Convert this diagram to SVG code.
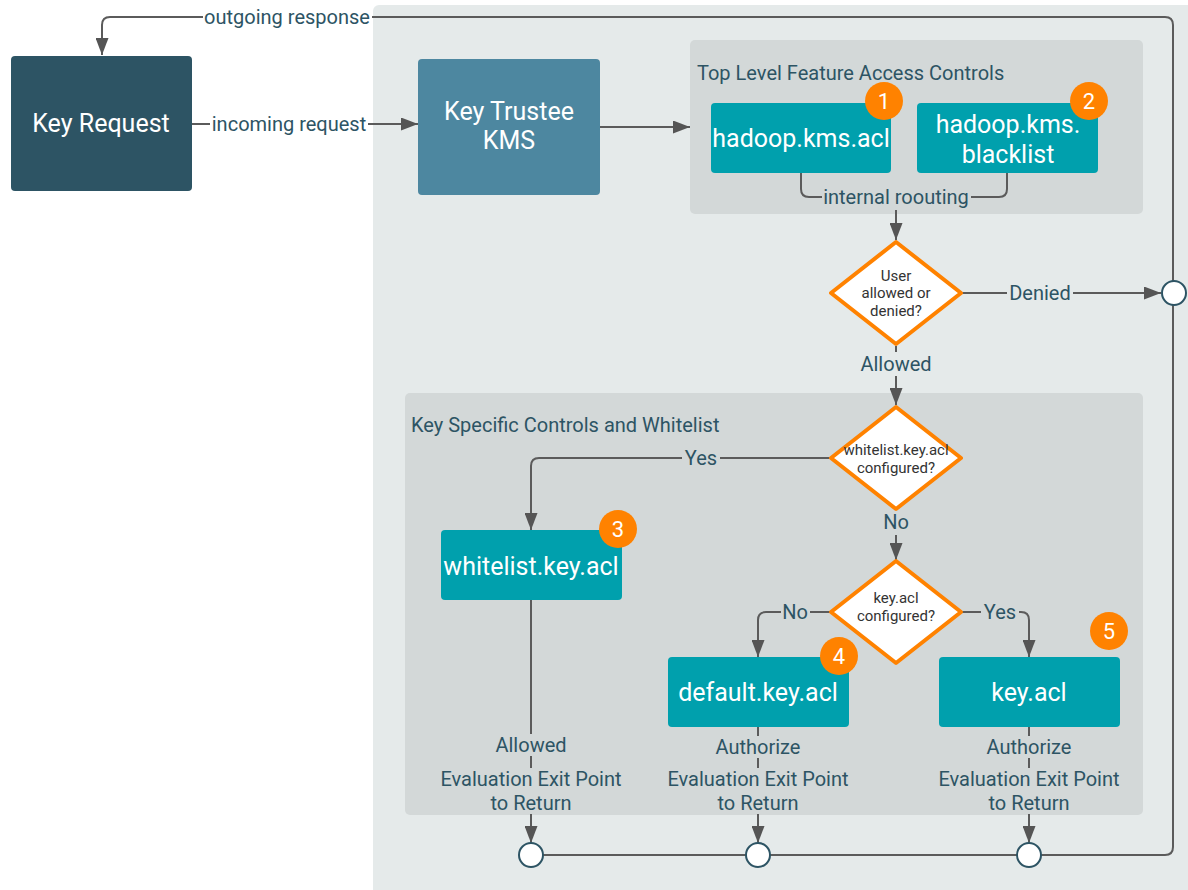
<svg xmlns="http://www.w3.org/2000/svg" width="1188" height="890" viewBox="0 0 1188 890">
<style>
text{font-family:Roboto,"Liberation Sans",sans-serif}
.lbl{font-size:20px;fill:#2d5464;text-anchor:middle}
.ttl{font-size:20px;fill:#2d5464}
.box{font-size:25px;fill:#fff;text-anchor:middle}
.dt{font-size:15px;fill:#333;text-anchor:middle}
.acl{fill:#00a0ad}
.ln{fill:none;stroke:#5b5b5b;stroke-width:2}
.dia{fill:#fff;stroke:#ff8200;stroke-width:4;stroke-linejoin:round}
.badge circle{fill:#ff8200}
.badge text{font-size:22px;fill:#fff;text-anchor:middle}
.end{fill:#fff;stroke:#2d5464;stroke-width:2}
.lb{fill:#d3d8d8}
</style>
<defs>
<marker id="ar" markerWidth="17" markerHeight="13" viewBox="0 0 17 13" refX="17" refY="6.5" orient="auto" markerUnits="userSpaceOnUse">
<path d="M0,0 L17,6.5 L0,13 Z" fill="#555"/>
</marker>
</defs>
<rect x="0" y="0" width="1188" height="890" fill="#fff"/>
<rect x="373" y="5" width="830" height="900" rx="6" fill="#e5eaea"/>
<g id="group-top">
<rect x="690" y="40" width="453" height="174" rx="5" fill="#d3d8d8"/>
<text class="ttl" x="697" y="80">Top Level Feature Access Controls</text>
</g>
<g id="group-key">
<rect x="405" y="393" width="738" height="422" rx="5" fill="#d3d8d8"/>
<text class="ttl" x="411" y="432">Key Specific Controls and Whitelist</text>
</g>
<g id="connectors">
<path class="ln" d="M1173,290 V25 Q1173,17 1165,17 H110 Q102,17 102,25 V55" marker-end="url(#ar)"/>
<rect x="203" y="5" width="169" height="24" fill="#fff"/>
<text class="lbl" x="287" y="24">outgoing response</text>
<path class="ln" d="M192,124 H418" marker-end="url(#ar)"/>
<rect x="210" y="112" width="158" height="24" fill="#fff"/>
<text class="lbl" x="289" y="131">incoming request</text>
<path class="ln" d="M600,127 H690" marker-end="url(#ar)"/>
<path class="ln" d="M801,173 V189 Q801,197 809,197 H999 Q1007,197 1007,189 V173"/>
<rect x="822" y="185" width="149" height="24" class="lb"/>
<text class="ttl" x="896" y="204" text-anchor="middle">internal roouting</text>
<path class="ln" d="M896,210 V240" marker-end="url(#ar)"/>
<path class="ln" d="M962,293 H1161" marker-end="url(#ar)"/>
<rect x="1007" y="281" width="66" height="24" fill="#e5eaea"/>
<text class="lbl" x="1040" y="300">Denied</text>
<path class="ln" d="M1173,305 V847 Q1173,855 1165,855 H531"/>
<path class="ln" d="M896,346 V405" marker-end="url(#ar)"/>
<rect x="858" y="352" width="76" height="24" fill="#e5eaea"/>
<text class="lbl" x="896" y="371">Allowed</text>
<path class="ln" d="M830,458 H539 Q531,458 531,466 V530" marker-end="url(#ar)"/>
<rect x="682" y="446" width="38" height="24" class="lb"/>
<text class="lbl" x="701" y="465">Yes</text>
<path class="ln" d="M896,511 V560" marker-end="url(#ar)"/>
<rect x="880" y="511" width="32" height="24" class="lb"/>
<text class="lbl" x="896" y="529">No</text>
<path class="ln" d="M830,612 H766 Q758,612 758,620 V657" marker-end="url(#ar)"/>
<rect x="781" y="600" width="29" height="24" class="lb"/>
<text class="lbl" x="795" y="619">No</text>
<path class="ln" d="M962,612 H1021 Q1029,612 1029,620 V657" marker-end="url(#ar)"/>
<rect x="981" y="600" width="38" height="24" class="lb"/>
<text class="lbl" x="1000" y="619">Yes</text>
<path class="ln" d="M531,600 V843" marker-end="url(#ar)"/>
<path class="ln" d="M758,727 V843" marker-end="url(#ar)"/>
<path class="ln" d="M1029,727 V843" marker-end="url(#ar)"/>
<rect x="490" y="734" width="82" height="22" class="lb"/>
<text class="lbl" x="531" y="752">Allowed</text>
<rect x="438" y="768" width="187" height="46" class="lb"/>
<text class="lbl" x="531" y="786">Evaluation Exit Point</text>
<text class="lbl" x="531" y="810">to Return</text>
<rect x="710" y="736" width="96" height="22" class="lb"/>
<text class="lbl" x="758" y="754">Authorize</text>
<rect x="665" y="768" width="187" height="46" class="lb"/>
<text class="lbl" x="758" y="786">Evaluation Exit Point</text>
<text class="lbl" x="758" y="810">to Return</text>
<rect x="981" y="736" width="96" height="22" class="lb"/>
<text class="lbl" x="1029" y="754">Authorize</text>
<rect x="936" y="768" width="187" height="46" class="lb"/>
<text class="lbl" x="1029" y="786">Evaluation Exit Point</text>
<text class="lbl" x="1029" y="810">to Return</text>
</g>
<g id="key-request">
<rect x="11" y="56" width="181" height="135" rx="4" fill="#2d5464"/>
<text class="box" x="101" y="132" font-size="26">Key Request</text>
</g>
<g id="kms">
<rect x="418" y="59" width="182" height="136" rx="4" fill="#4d87a0"/>
<text class="box" x="509" y="120">Key Trustee</text>
<text class="box" x="509" y="149">KMS</text>
</g>
<g id="hadoop-kms-acl">
<rect class="acl" x="711" y="103" width="180" height="70" rx="4"/>
<text class="box" x="801" y="147">hadoop.kms.acl</text>
<g class="badge"><circle cx="884" cy="101" r="19"/><text x="884" y="109">1</text></g>
</g>
<g id="hadoop-kms-blacklist">
<rect class="acl" x="917" y="103" width="181" height="70" rx="4"/>
<text class="box" x="1008" y="133">hadoop.kms.</text>
<text class="box" x="1008" y="163">blacklist</text>
<g class="badge"><circle cx="1089" cy="101" r="19"/><text x="1089" y="109">2</text></g>
</g>
<g id="decision-user">
<path class="dia" d="M896,242 L961,293 L896,344 L831,293 Z"/>
<text class="dt" x="896" y="281">User</text>
<text class="dt" x="896" y="298">allowed or</text>
<text class="dt" x="896" y="316">denied?</text>
</g>
<g id="end-denied"><circle class="end" cx="1174" cy="293" r="12"/></g>
<g id="decision-whitelist">
<path class="dia" d="M896,407 L961,458 L896,509 L831,458 Z"/>
<text class="dt" x="896" y="455">whitelist.key.acl</text>
<text class="dt" x="896" y="473">configured?</text>
</g>
<g id="whitelist-key-acl">
<rect class="acl" x="441" y="530" width="181" height="70" rx="4"/>
<text class="box" x="531" y="575">whitelist.key.acl</text>
<g class="badge"><circle cx="618" cy="529" r="19"/><text x="618" y="537">3</text></g>
</g>
<g id="decision-keyacl">
<path class="dia" d="M896,561 L961,612 L896,663 L831,612 Z"/>
<text class="dt" x="896" y="603">key.acl</text>
<text class="dt" x="896" y="621">configured?</text>
</g>
<g id="default-key-acl">
<rect class="acl" x="668" y="657" width="181" height="70" rx="4"/>
<text class="box" x="758" y="701">default.key.acl</text>
<g class="badge"><circle cx="839" cy="656" r="19"/><text x="839" y="664">4</text></g>
</g>
<g id="key-acl">
<rect class="acl" x="939" y="657" width="181" height="70" rx="4"/>
<text class="box" x="1029" y="701">key.acl</text>
<g class="badge"><circle cx="1109" cy="631" r="19"/><text x="1109" y="639">5</text></g>
</g>
<g id="exits">
<circle class="end" cx="531" cy="855" r="12"/>
<circle class="end" cx="758" cy="855" r="12"/>
<circle class="end" cx="1029" cy="855" r="12"/>
</g>
</svg>
